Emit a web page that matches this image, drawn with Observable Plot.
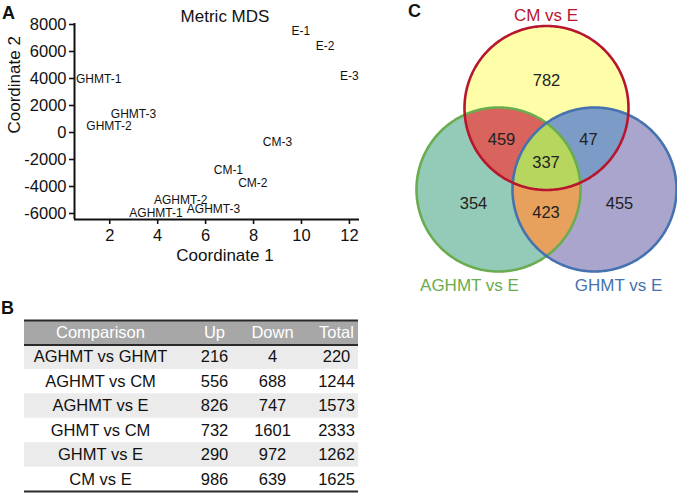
<!DOCTYPE html>
<html><head><meta charset="utf-8">
<script src="https://cdn.jsdelivr.net/npm/d3@7"></script>
<script src="https://cdn.jsdelivr.net/npm/@observablehq/plot@0.6"></script>
<style>
html,body{margin:0;padding:0;background:#fff;}
#fig{position:relative;width:677px;height:494px;font-family:"Liberation Sans",Arial,Helvetica,sans-serif;overflow:hidden;background:#fff}
.panel{position:absolute}
.letter{position:absolute;font-weight:bold;font-size:18px;line-height:1;color:#111}
</style></head><body>
<div id="fig">
  <div class="panel" id="pa" style="left:0;top:0"></div>
  <div class="panel" id="pb" style="left:24px;top:318px"></div>
  <div class="panel" id="pc" style="left:370px;top:0"></div>
  <div class="letter" style="left:2px;top:4px">A</div>
  <div class="letter" style="left:1px;top:299px">B</div>
  <div class="letter" style="left:408px;top:2px">C</div>
</div>
<script>
// ---------- Panel A data: metric MDS ----------
const mdsSamples = ["E-1","E-2","E-3","GHMT-1","GHMT-2","GHMT-3","CM-1","CM-2","CM-3","AGHMT-1","AGHMT-2","AGHMT-3"];
const mdsCoord1  = [9.97, 10.98, 12.0, 1.54, 1.97, 2.99, 6.95, 7.97, 9.0, 3.93, 4.96, 6.33];
const mdsCoord2  = [7480, 6390, 4150, 3950, 500, 1360, -2815, -3725, -690, -5950, -4985, -5680];
const xTicks = [2, 4, 6, 8, 10, 12];
const yTicks = [-6000, -4000, -2000, 0, 2000, 4000, 6000, 8000];

// ---------- Panel B data: DE gene table ----------
const tableHeaders = ["Comparison", "Up", "Down", "Total"];
const comparisons  = ["AGHMT vs GHMT", "AGHMT vs CM", "AGHMT vs E", "GHMT vs CM", "GHMT vs E", "CM vs E"];
const upCounts     = [216, 556, 826, 732, 290, 986];
const downCounts   = [4, 688, 747, 1601, 972, 639];
const totalCounts  = [220, 1244, 1573, 2333, 1262, 1625];

// ---------- Panel C data: Venn diagram ----------
const vennSets    = ["CM vs E", "AGHMT vs E", "GHMT vs E"];
const vennRegions = ["CM only", "CM & AGHMT", "CM & GHMT", "all three", "AGHMT only", "AGHMT & GHMT", "GHMT only"];
const vennCounts  = [782, 459, 47, 337, 354, 423, 455];

const FONT = '"Liberation Sans", Arial, Helvetica, sans-serif';

// ================= Panel A =================
const mds = mdsSamples.map((s, i) => ({name: s, c1: mdsCoord1[i], c2: mdsCoord2[i]}));
const xDom = [0.53, 12.42], yDom = [-6444, 8074];
const plotA = Plot.plot({
  width: 370, height: 275,
  marginLeft: 74, marginRight: 11, marginTop: 23, marginBottom: 56,
  style: {fontFamily: FONT, fontSize: "16px", background: "transparent", color: "#111"},
  x: {domain: xDom},
  y: {domain: yDom},
  marks: [
    Plot.axisX({ticks: xTicks, tickSize: 5, tickPadding: 5, fontSize: 16.5, label: null, strokeWidth: 1.6}),
    Plot.axisY({ticks: yTicks, tickSize: 5, tickPadding: 3, fontSize: 16.5, label: null, strokeWidth: 1.6, tickFormat: d => String(d)}),
    Plot.ruleX([xDom[0]], {strokeWidth: 2}),
    Plot.ruleY([yDom[0]], {strokeWidth: 2}),
    Plot.text(mds, {x: "c1", y: "c2", text: "name", fontSize: 12}),
    Plot.text(["Metric MDS"], {frameAnchor: "top", dy: -14, dx: 8, fontSize: 17}),
    Plot.text(["Coordinate 1"], {frameAnchor: "bottom", dy: 41, dx: 8, fontSize: 17}),
    Plot.text(["Coordinate 2"], {frameAnchor: "left", dx: -60, dy: 12, rotate: -90, fontSize: 17})
  ]
});
document.getElementById("pa").appendChild(plotA);

// ================= Panel B =================
const tableRows = comparisons.map((c, i) => ({row: i + 1, comparison: c, up: upCounts[i], down: downCounts[i], total: totalCounts[i]}));
const colKeys = ["comparison", "up", "down", "total"];
const colX = [76, 190, 248, 312]; // layout: column centres in px
const TW = 334;
const plotB = Plot.plot({
  width: TW, height: 176, margin: 0,
  style: {fontFamily: FONT, fontSize: "16px", background: "transparent", color: "#111"},
  x: {domain: [0, TW], range: [0, TW], axis: null},
  y: {domain: [0, 7], range: [2, 173], axis: null},
  marks: [
    Plot.rect([{row: 0}], {y1: "row", y2: d => d.row + 1, fill: "#a7a7a7"}),
    Plot.rect(tableRows.filter(d => d.row % 2 === 1), {y1: "row", y2: d => d.row + 1, fill: "#ebebeb"}),
    Plot.ruleY([0, 1, 7], {stroke: "#2a2a2a", strokeWidth: 2}),
    Plot.text(tableHeaders, {x: (d, i) => colX[i], y: 0.5, text: d => d, fill: "#ffffff", fontSize: 16.5}),
    ...colKeys.map((k, j) => Plot.text(tableRows, {x: colX[j], y: d => d.row + 0.5, text: d => String(d[k]), fontSize: 16.5}))
  ]
});
document.getElementById("pb").appendChild(plotB);

// ================= Panel C =================
const VR = 82;                                   // layout: circle radius
const vennCenters = [[176, 107.5], [128, 189], [224, 189]]; // layout: circle centres
const setColors  = ["#b8162f", "#6aac4f", "#4672b0"];
const baseFill   = ["#fefea9", "#94cbb8", "#aaa5cd"];
const inside = (p, c) => Math.hypot(p[0] - c[0], p[1] - c[1]) <= VR + 1e-6;
function circlePts(c, n = 360) {
  const pts = [];
  for (let k = 0; k <= n; k++) { const a = 2 * Math.PI * k / n; pts.push({x: c[0] + VR * Math.cos(a), y: c[1] + VR * Math.sin(a)}); }
  return pts;
}
function regionPoly(ids) {
  const pts = [], n = 1440;
  for (const i of ids) {
    const [cx, cy] = vennCenters[i];
    for (let k = 0; k < n; k++) {
      const a = 2 * Math.PI * k / n, p = [cx + VR * Math.cos(a), cy + VR * Math.sin(a)];
      if (ids.every(j => j === i || inside(p, vennCenters[j]))) pts.push(p);
    }
  }
  for (let a = 0; a < ids.length; a++) for (let b = a + 1; b < ids.length; b++) {
    const c1 = vennCenters[ids[a]], c2 = vennCenters[ids[b]];
    const d = Math.hypot(c2[0] - c1[0], c2[1] - c1[1]);
    const h = Math.sqrt(VR * VR - d * d / 4);
    const mx = (c1[0] + c2[0]) / 2, my = (c1[1] + c2[1]) / 2;
    const ux = (c2[0] - c1[0]) / d, uy = (c2[1] - c1[1]) / d;
    for (const s of [1, -1]) {
      const p = [mx - s * h * uy, my + s * h * ux];
      if (ids.every(j => inside(p, vennCenters[j]))) pts.push(p);
    }
  }
  const cx = d3.mean(pts, p => p[0]), cy = d3.mean(pts, p => p[1]);
  pts.sort((p, q) => Math.atan2(p[1] - cy, p[0] - cx) - Math.atan2(q[1] - cy, q[0] - cx));
  return pts.map(p => ({x: p[0], y: p[1]}));
}
const overlapFills = [
  {ids: [0, 1], color: "#d9635d"},
  {ids: [0, 2], color: "#7c9cc7"},
  {ids: [1, 2], color: "#e8a15c"},
  {ids: [0, 1, 2], color: "#b7d65d"}
];
// layout: label anchors for regions and set names
const regionLabelPos = [[176, 80], [131, 139], [218, 139], [175.5, 162.5], [103, 203], [175.5, 212.5], [249, 203]];
const setLabelPos = [[175.5, 15], [99, 285], [248, 285]];
const regionLabels = vennRegions.map((r, i) => ({region: r, count: vennCounts[i], x: regionLabelPos[i][0], y: regionLabelPos[i][1]}));
const setLabels = vennSets.map((s, i) => ({name: s, color: setColors[i], x: setLabelPos[i][0], y: setLabelPos[i][1]}));

const plotC = Plot.plot({
  width: 307, height: 300, margin: 0,
  style: {fontFamily: FONT, fontSize: "16px", background: "transparent", color: "#111"},
  x: {domain: [0, 307], range: [0, 307], axis: null},
  y: {domain: [0, 300], range: [0, 300], axis: null},
  marks: [
    ...vennCenters.map((c, i) => Plot.line(circlePts(c), {x: "x", y: "y", fill: baseFill[i], stroke: "none"})),
    ...overlapFills.map(o => Plot.line(regionPoly(o.ids), {x: "x", y: "y", fill: o.color, stroke: "none"})),
    ...[1, 2, 0].map(i => Plot.line(circlePts(vennCenters[i]), {x: "x", y: "y", stroke: setColors[i], strokeWidth: 2.6, fill: "none"})),
    Plot.text(regionLabels, {x: "x", y: "y", text: d => String(d.count), fontSize: 16.5, fill: "#222"}),
    ...setLabels.map(s => Plot.text([s], {x: "x", y: "y", text: "name", fill: s.color, fontSize: 17}))
  ]
});
document.getElementById("pc").appendChild(plotC);
</script>
</body></html>
